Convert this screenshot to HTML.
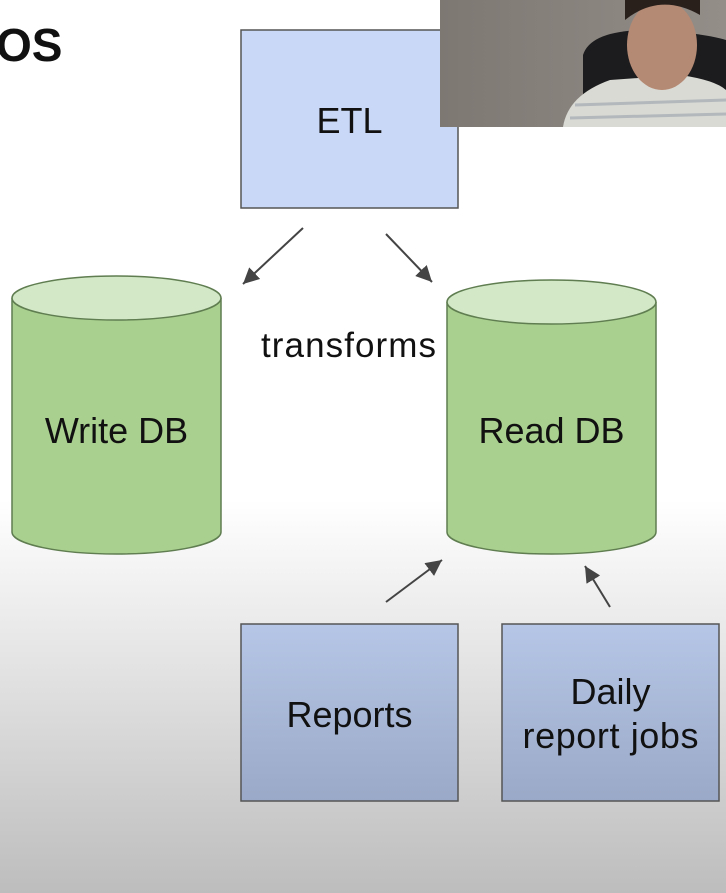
<!DOCTYPE html>
<html><head><style>
html,body{margin:0;padding:0;}
body{width:726px;height:893px;overflow:hidden;background:linear-gradient(#fff 0,#fff 500px,#bdbdbd 893px);position:relative;font-family:"Liberation Sans",sans-serif;}
</style></head><body>
<svg width="726" height="893" style="position:absolute;left:0;top:0" font-family="Liberation Sans, sans-serif">
<defs>
<linearGradient id="bl" x1="0" y1="0" x2="0" y2="1"><stop offset="0" stop-color="#b6c6e6"/><stop offset="1" stop-color="#9aa9c7"/></linearGradient>
<marker id="ah" markerWidth="16" markerHeight="16" refX="14" refY="7" orient="auto" markerUnits="userSpaceOnUse" viewBox="0 0 14 14"><path d="M0,0 L14,7 L0,14 z" fill="#444"/></marker>
<linearGradient id="cam" x1="0" y1="0" x2="1" y2="0"><stop offset="0" stop-color="#7e7873"/><stop offset="1" stop-color="#948e89"/></linearGradient>
</defs>
<text x="-4" y="61" font-size="46" font-weight="bold" fill="#111">OS</text>
<rect x="241" y="30" width="217" height="178" fill="#c9d8f6" stroke="#555" stroke-width="1.5"/>
<text x="349.5" y="133" font-size="36" text-anchor="middle" fill="#111">ETL</text>
<path d="M12,298 L12,532 A104.5,22 0 0 0 221,532 L221,298" fill="#a9d08e" stroke="#5f7d50" stroke-width="1.5"/>
<ellipse cx="116.5" cy="298" rx="104.5" ry="22" fill="#d2e8c6" stroke="#5f7d50" stroke-width="1.5"/>
<text x="116.5" y="443" font-size="36" text-anchor="middle" fill="#111">Write DB</text>
<path d="M447,302 L447,532 A104.5,22 0 0 0 656,532 L656,302" fill="#a9d08e" stroke="#5f7d50" stroke-width="1.5"/>
<ellipse cx="551.5" cy="302" rx="104.5" ry="22" fill="#d2e8c6" stroke="#5f7d50" stroke-width="1.5"/>
<text x="551.5" y="443" font-size="36" text-anchor="middle" fill="#111">Read DB</text>
<text x="261" y="357" font-size="35" fill="#111" textLength="175">transforms</text>
<g stroke="#444" stroke-width="2" marker-end="url(#ah)">
<line x1="303" y1="228" x2="243" y2="284"/>
<line x1="386" y1="234" x2="432" y2="282"/>
<line x1="386" y1="602" x2="442" y2="560"/>
<line x1="610" y1="607" x2="585" y2="566"/>
</g>
<rect x="241" y="624" width="217" height="177" fill="url(#bl)" stroke="#555" stroke-width="1.5"/>
<text x="349.5" y="727" font-size="36" text-anchor="middle" fill="#111">Reports</text>
<rect x="502" y="624" width="217" height="177" fill="url(#bl)" stroke="#555" stroke-width="1.5"/>
<text x="610.5" y="704" font-size="36" text-anchor="middle" fill="#111">Daily</text>
<text x="610.5" y="748" font-size="36" text-anchor="middle" fill="#111" textLength="176">report jobs</text>
<rect x="440" y="0" width="286" height="127" fill="url(#cam)"/>
<path d="M583,55 Q590,32 640,30 Q700,32 726,40 L726,110 L583,110 Z" fill="#1c1c1e"/>
<path d="M563,127 Q568,95 610,80 L680,75 Q715,80 726,90 L726,127 Z" fill="#d9dad4"/>
<path d="M575,105 L726,100 M570,118 L726,114" stroke="#b3b8bc" stroke-width="3"/>
<ellipse cx="662" cy="45" rx="35" ry="45" fill="#b58a74"/>
<path d="M625,20 Q660,-8 700,15 L700,0 L625,0 Z" fill="#2a201b"/>
</svg>
</body></html>
